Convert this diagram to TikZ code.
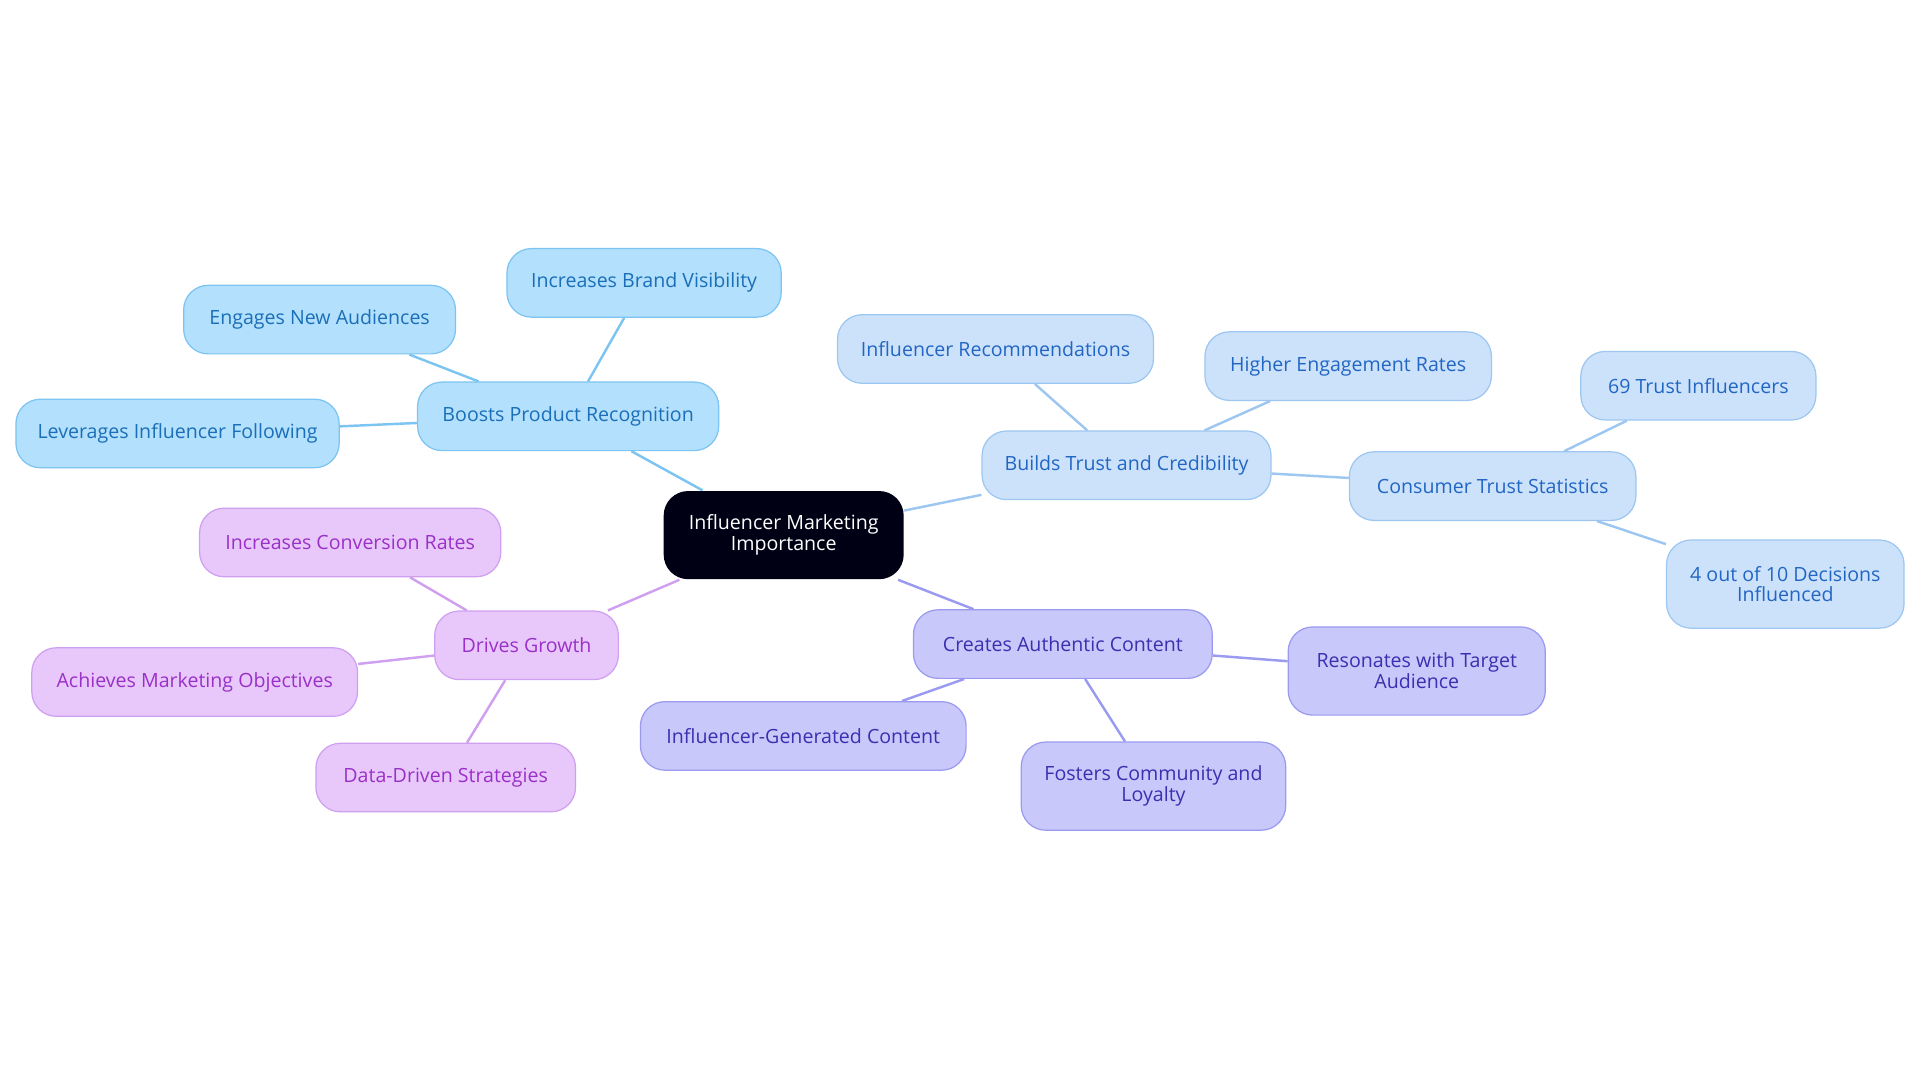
\documentclass[tikz,border=0pt]{standalone}
\usepackage{fontspec}
\setmainfont{Open Sans}
\usetikzlibrary{backgrounds}
\definecolor{bF}{HTML}{B3E0FC}\definecolor{bB}{HTML}{7CC4F2}\definecolor{bT}{HTML}{1A6FB8}
\definecolor{lF}{HTML}{CCE2FA}\definecolor{lB}{HTML}{9DC6F0}\definecolor{lT}{HTML}{2266C4}
\definecolor{vF}{HTML}{C8C8FA}\definecolor{vB}{HTML}{9A9AF0}\definecolor{vT}{HTML}{3A30B0}
\definecolor{pF}{HTML}{E8C8FA}\definecolor{pB}{HTML}{CFA0F0}\definecolor{pT}{HTML}{9A30C8}
\tikzset{
 nd/.style={rounded corners=10pt,minimum height=28pt,align=center,font=\fontsize{8}{8.5}\selectfont,inner sep=2pt,line width=0.5pt},
 bn/.style={nd,fill=bF,draw=bB,text=bT},
 ln/.style={nd,fill=lF,draw=lB,text=lT},
 vn/.style={nd,fill=vF,draw=vB,text=vT},
 pn/.style={nd,fill=pF,draw=pB,text=pT},
 tall/.style={minimum height=36pt},
 ed/.style={line width=1pt}
}
\begin{document}
\begin{tikzpicture}[x=0.5pt,y=-0.5pt]
\useasboundingbox (0,0) rectangle (1568,884);
\node[nd,fill=black!92!blue,text=white,minimum width=98pt,minimum height=36pt] (c) at (640,437) {Influencer Marketing\\Importance};
\node[bn,minimum width=123pt] (b) at (464,340) {Boosts Product Recognition};
\node[bn,minimum width=112pt] (b1) at (526,231) {Increases Brand Visibility};
\node[bn,minimum width=111pt] (b2) at (261,261) {Engages New Audiences};
\node[bn,minimum width=132pt] (b3) at (145,354) {Leverages Influencer Following};
\node[ln,minimum width=118pt] (t) at (920,380) {Builds Trust and Credibility};
\node[ln,minimum width=129pt] (t1) at (813,285) {Influencer Recommendations};
\node[ln,minimum width=117pt] (t2) at (1101,299) {Higher Engagement Rates};
\node[ln,minimum width=117pt] (t3) at (1219,397) {Consumer Trust Statistics};
\node[ln,minimum width=96pt] (t31) at (1387,315) {69 Trust Influencers};
\node[ln,minimum width=97pt,tall] (t32) at (1458,477) {4 out of 10 Decisions\\Influenced};
\node[vn,minimum width=122pt] (a) at (868,526) {Creates Authentic Content};
\node[vn,minimum width=105pt,tall] (a1) at (1157,548) {Resonates with Target\\Audience};
\node[vn,minimum width=108pt,tall] (a2) at (942,642) {Fosters Community and\\Loyalty};
\node[vn,minimum width=133pt] (a3) at (656,601) {Influencer-Generated Content};
\node[pn,minimum width=75pt] (g) at (430,527) {Drives Growth};
\node[pn,minimum width=123pt] (g1) at (286,443) {Increases Conversion Rates};
\node[pn,minimum width=133pt] (g2) at (159,557) {Achieves Marketing Objectives};
\node[pn,minimum width=106pt] (g3) at (364,635) {Data-Driven Strategies};
\begin{scope}[on background layer]
\draw[ed,draw=bB] (c)--(b) (b)--(b1) (b)--(b2) (b)--(b3);
\draw[ed,draw=lB] (c)--(t) (t)--(t1) (t)--(t2) (t)--(t3) (t3)--(t31) (t3)--(t32);
\draw[ed,draw=vB] (c)--(a) (a)--(a1) (a)--(a2) (a)--(a3);
\draw[ed,draw=pB] (c)--(g) (g)--(g1) (g)--(g2) (g)--(g3);
\end{scope}
\end{tikzpicture}
\end{document}
